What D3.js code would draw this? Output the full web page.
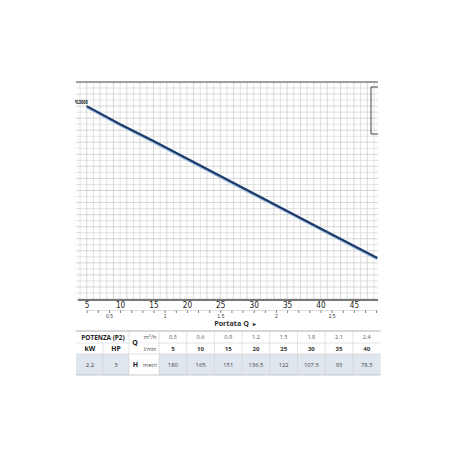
<!DOCTYPE html>
<html>
<head>
<meta charset="utf-8">
<script src="https://cdn.jsdelivr.net/npm/d3@7"></script>
<style>
  body { margin: 0; background: #fff; }
  svg { display: block; font-family: "Open Sans", "Liberation Sans", sans-serif; }
</style>
</head>
<body>
<svg id="chart" width="456" height="456"></svg>
<script>
// curve PG3000, Q in l/min, H in metres
var curveQ = [5, 10, 15, 20, 25, 30, 35, 40, 48.5];
var curveH = [180, 165, 151, 136.5, 122, 107.5, 93, 78.5, 54];

var lminTicks = [5, 10, 15, 20, 25, 30, 35, 40, 45];
var m3hLabels = [0.5, 1, 1.5, 2, 2.5];

// table
var tabM3h = ['0.3', '0.6', '0.9', '1.2', '1.5', '1.8', '2.1', '2.4'];
var tabLmin = ['5', '10', '15', '20', '25', '30', '35', '40'];
var tabH = ['180', '165', '151', '136.5', '122', '107.5', '93', '78.5'];
var powerKW = '2.2', powerHP = '3';

var svg = d3.select('#chart');

var pLeft = 76, pRight = 378, pTop = 82, pBottom = 299;

// l/min -> px ; the picture is a crop of a wider chart
var x = d3.scaleLinear().domain([0, 50]).range([53.3, 387.3]);
var y = d3.scaleLinear().domain([20, 200]).range([pBottom, pTop]);
var xm3 = function(v){ return x(v / 0.06); };

svg.append('clipPath').attr('id', 'plotclip')
  .append('rect').attr('x', pLeft).attr('y', 0).attr('width', pRight - pLeft).attr('height', 456);
svg.append('clipPath').attr('id', 'labelclip')
  .append('rect').attr('x', 75).attr('y', 0).attr('width', 40).attr('height', 456);

var plot = svg.append('g').attr('clip-path', 'url(#plotclip)');

// grid
plot.append('g').selectAll('line')
  .data(d3.range(3, 50))
  .join('line')
  .attr('x1', function(d){ return x(d); }).attr('x2', function(d){ return x(d); })
  .attr('y1', pTop).attr('y2', pBottom)
  .attr('stroke', function(d){ return d % 2 ? '#bdbdbd' : '#d0d0d0'; })
  .attr('stroke-width', 0.6);

plot.append('g').selectAll('line')
  .data(d3.range(20, 201, 5))
  .join('line')
  .attr('x1', pLeft).attr('x2', pRight)
  .attr('y1', function(d){ return y(d); }).attr('y2', function(d){ return y(d); })
  .attr('stroke', function(d){ return d % 10 ? '#d0d0d0' : '#bdbdbd'; })
  .attr('stroke-width', 0.6);

// top frame line
plot.append('line')
  .attr('x1', pLeft).attr('x2', pRight).attr('y1', pTop).attr('y2', pTop)
  .attr('stroke', '#555').attr('stroke-width', 1);

// legend box (cropped)
svg.append('path')
  .attr('d', 'M378,87 H371 V134 H378')
  .attr('fill', 'none').attr('stroke', '#444').attr('stroke-width', 1);

// curve
var pts = curveQ.map(function(q, i){ return [q, curveH[i]]; });
var line = d3.line().x(function(d){ return x(d[0]); }).y(function(d){ return y(d[1]); });

plot.append('path').datum(pts)
  .attr('d', line).attr('fill', 'none')
  .attr('stroke', '#a9c4e4').attr('stroke-width', 3)
  .attr('transform', 'translate(0,0.8)');
plot.append('path').datum(pts)
  .attr('d', line).attr('fill', 'none')
  .attr('stroke', '#1d3b6a').attr('stroke-width', 2.2);

svg.append('text')
  .attr('clip-path', 'url(#labelclip)')
  .attr('x', x(5) + 1).attr('y', y(180) - 1.8)
  .attr('text-anchor', 'end')
  .attr('font-size', 5.6).attr('font-weight', 'bold').attr('fill', '#222')
  .attr('font-family', 'Liberation Sans Narrow, DejaVu Sans Condensed, Liberation Sans, sans-serif')
  .attr('textLength', 14).attr('lengthAdjust', 'spacingAndGlyphs')
  .text('PG3000');

// bottom axis bar
svg.append('line')
  .attr('x1', 78).attr('x2', pRight).attr('y1', 300).attr('y2', 300)
  .attr('stroke', '#777').attr('stroke-width', 2);

// l/min labels
var ax = d3.axisBottom(x).tickValues(lminTicks).tickSize(0).tickPadding(0);
var gx = svg.append('g').attr('transform', 'translate(0,301.5)').call(ax);
gx.select('.domain').remove();
gx.selectAll('text')
  .attr('font-size', 8.2).attr('fill', '#222').attr('dy', '0.75em')
  .attr('font-family', 'DejaVu Sans Condensed, Liberation Sans, sans-serif');

// m3/h secondary axis
var x3 = d3.scaleLinear().domain([0, 3]).range([xm3(0), xm3(3)]);
svg.append('line')
  .attr('x1', x3(0.3)).attr('x2', pRight).attr('y1', 310.5).attr('y2', 310.5)
  .attr('stroke', '#bbb').attr('stroke-width', 0.5);
var ax3 = d3.axisBottom(x3).tickValues(d3.range(3, 30).map(function(d){ return d / 10; }))
  .tickSize(2.5).tickPadding(1.2)
  .tickFormat(function(d){ return m3hLabels.indexOf(+d.toFixed(1)) >= 0 ? d3.format('~g')(+d.toFixed(1)) : ''; });
var g3 = svg.append('g').attr('transform', 'translate(0,310.5)').call(ax3);
g3.select('.domain').remove();
g3.selectAll('line').attr('stroke', '#444').attr('stroke-width', 0.7);
g3.selectAll('text').attr('font-size', 5).attr('fill', '#444');

var ttl = svg.append('text')
  .attr('x', 235).attr('y', 326)
  .attr('text-anchor', 'middle')
  .attr('font-size', 7.2).attr('font-weight', 'bold').attr('fill', '#333');
ttl.append('tspan').text('Portata Q');
ttl.append('tspan').attr('dx', 4).attr('font-size', 6).text('\u25B8');

// ---- table ----
var t = svg.append('g');
var colW = 27.7, vx0 = 159;
var rowY = [331, 343, 354, 375];
var tx = d3.scaleBand().domain(d3.range(tabM3h.length)).range([vx0, vx0 + colW * tabM3h.length]);
var tEnd = vx0 + colW * tabM3h.length;

// data row background
t.append('rect').attr('x', 76).attr('y', rowY[2]).attr('width', tEnd - 76).attr('height', rowY[3] - rowY[2])
  .attr('fill', '#dfe6ee');
t.append('rect').attr('x', 129).attr('y', rowY[2]).attr('width', vx0 - 129).attr('height', rowY[3] - rowY[2])
  .attr('fill', '#fff');

// horizontal rules
t.selectAll('line.r').data(rowY).join('line')
  .attr('x1', 76).attr('x2', tEnd)
  .attr('y1', function(d){ return d; }).attr('y2', function(d){ return d; })
  .attr('stroke', function(d, i){ return i === 0 ? '#999' : (i === 3 ? '#aaa' : '#d0d0d0'); })
  .attr('stroke-width', function(d, i){ return i === 0 ? 0.8 : 0.6; });
// Q cell spans the first two rows
t.append('line').attr('x1', 129.4).attr('x2', vx0 - 0.4).attr('y1', rowY[1]).attr('y2', rowY[1])
  .attr('stroke', '#fff').attr('stroke-width', 1);

// vertical rules
var vlines = [103, 129, vx0].concat(d3.range(1, tabM3h.length).map(function(i){ return vx0 + colW * i; }));
t.selectAll('line.c').data(vlines).join('line')
  .attr('x1', function(d){ return d; }).attr('x2', function(d){ return d; })
  .attr('y1', function(d){ return d === 103 ? rowY[1] : rowY[0]; }).attr('y2', rowY[3])
  .attr('stroke', '#d0d0d0').attr('stroke-width', 0.6);

function cell(txt, cx, cy, opt){
  opt = opt || {};
  return t.append('text')
    .attr('x', cx).attr('y', cy)
    .attr('text-anchor', 'middle')
    .attr('dominant-baseline', 'central')
    .attr('font-size', opt.size || 6)
    .attr('font-weight', opt.bold ? 'bold' : 'normal')
    .attr('fill', opt.fill || '#444')
    .text(txt);
}

var cy0 = (rowY[0] + rowY[1]) / 2, cy1 = (rowY[1] + rowY[2]) / 2, cy2 = (rowY[2] + rowY[3]) / 2;

cell('POTENZA (P2)', 103, cy0, { bold: true, size: 6.4, fill: '#222' });
cell('kW', 90, cy1, { bold: true, size: 6.8, fill: '#222' });
cell('HP', 116, cy1, { bold: true, size: 6.8, fill: '#222' });
cell(powerKW, 90, cy2, { size: 6 });
cell(powerHP, 116, cy2, { size: 6 });

cell('Q', 135, (rowY[0] + rowY[2]) / 2, { bold: true, size: 7, fill: '#222' });
t.append('text').attr('x', 150).attr('y', cy0).attr('text-anchor', 'middle')
  .attr('dominant-baseline', 'central').attr('font-size', 5.5).attr('fill', '#444')
  .html('m<tspan dy="-2" font-size="3.6">3</tspan><tspan dy="2">/h</tspan>');
cell('l/min', 150, cy1, { size: 5.2 });
cell('H', 135.5, cy2, { bold: true, size: 7, fill: '#222' });
cell('metri', 150, cy2, { size: 5.5 });

tabM3h.forEach(function(v, i){
  var cx = tx(i) + tx.bandwidth() / 2;
  cell(v, cx, cy0, { size: 5.6, fill: '#555' });
  cell(tabLmin[i], cx, cy1, { size: 6, bold: true, fill: '#333' });
  cell(tabH[i], cx, cy2, { size: 5.8, fill: '#444' });
});
</script>
</body>
</html>
